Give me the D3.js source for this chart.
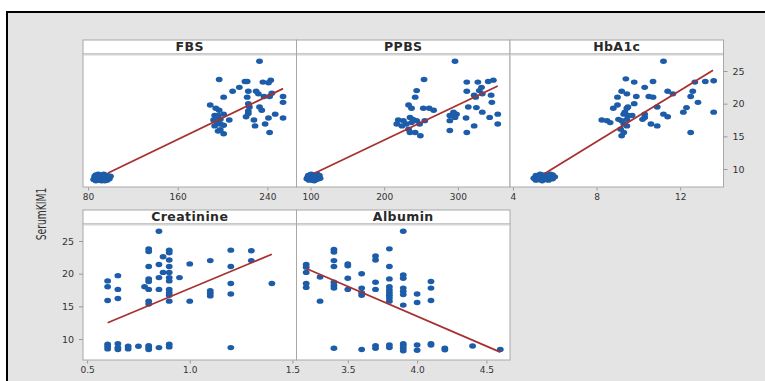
<!DOCTYPE html>
<html>
<head>
<meta charset="utf-8">
<script src="https://cdn.jsdelivr.net/npm/d3@7"></script>
<style>
  body { margin: 0; background: #fff; }
  svg { display: block; }
</style>
</head>
<body>
<script>
var w = 765;
var h = 381;

// panel names, x domains and ticks
var panelNames = ["FBS", "PPBS", "HbA1c", "Creatinine", "Albumin"];
var xDomains = [[75.5, 266], [81, 370.6], [3.86, 14.07], [0.48, 1.52], [3.13, 4.67]];
var xTicks = [[80, 160, 240], [100, 200, 300], [4, 8, 12], [0.5, 1.0, 1.5], [3.5, 4.0, 4.5]];
var yTicks = [10, 15, 20, 25];

// [x, SerumKIM1]
var fbsPts = [
  [85, 8.4], [86, 8.9], [87, 8.2], [87, 9.1], [88, 8.6], [89, 8.3], [89, 9.2], [90, 8.8], [91, 8.5],
  [92, 9.0], [92, 8.2], [93, 8.7], [94, 8.4], [94, 9.2], [95, 8.9], [96, 8.5], [97, 8.3], [97, 9.0],
  [98, 8.7], [99, 8.5], [100, 8.9], [86, 8.6], [90, 9.1], [95, 8.2], [88, 8.9],
  [233, 26.5], [197, 23.7], [220, 23.4], [222, 23.4], [236, 23.3], [243, 23.6], [241, 23.2],
  [215, 22.5], [209, 21.9], [230, 21.9], [232, 21.5], [223, 21.9], [244, 21.6], [242, 21.1],
  [237, 21.1], [201, 21.0], [222, 21.0], [254, 21.1], [254, 20.2], [189, 19.8], [194, 19.3],
  [197, 19.0], [223, 20.0], [224, 19.5], [233, 19.5], [193, 18.2], [196, 18.2], [201, 18.4],
  [206, 17.5], [221, 18.0], [223, 18.5], [223, 18.9], [247, 18.4], [241, 17.8], [254, 17.8],
  [195, 17.1], [198, 16.9], [193, 16.6], [201, 16.7], [228, 17.5], [229, 16.6], [238, 16.9],
  [196, 15.8], [201, 15.4], [198, 16.0], [242, 15.6], [235, 19.0], [195, 18.0], [198, 17.6], [192, 17.5]
];
var ppbsPts = [
  [95, 8.5], [97, 9.0], [98, 8.3], [100, 8.8], [101, 9.2], [102, 8.5], [104, 8.9], [105, 8.2],
  [106, 8.6], [107, 9.1], [108, 8.4], [110, 8.8], [111, 8.5], [112, 9.0], [96, 8.7], [103, 8.3],
  [109, 9.2], [113, 8.6], [99, 9.1], [105, 8.7],
  [296, 26.5], [254, 23.7], [312, 23.3], [327, 23.3], [341, 23.4], [348, 23.6], [332, 22.5],
  [244, 22.0], [312, 21.9], [329, 22.0], [242, 21.0], [322, 21.3], [324, 21.0], [333, 21.5],
  [345, 21.3], [233, 19.8], [237, 19.3], [253, 19.3], [261, 19.3], [267, 19.0], [346, 20.2],
  [314, 19.5], [325, 19.4], [333, 18.7], [294, 18.7], [298, 18.4], [296, 17.9], [289, 18.2],
  [343, 17.9], [354, 18.4], [311, 17.8], [219, 17.5], [226, 17.4], [235, 17.9], [239, 17.6],
  [230, 16.9], [237, 17.1], [244, 17.4], [217, 16.9], [224, 16.6], [233, 16.1], [235, 15.6],
  [242, 15.6], [249, 15.1], [255, 17.4], [248, 16.9], [289, 17.4], [289, 15.9], [322, 16.6],
  [312, 15.6], [354, 16.9]
];
var hba1cPts = [
  [5.0, 8.6], [5.1, 9.0], [5.1, 8.3], [5.2, 8.8], [5.3, 9.2], [5.3, 8.5], [5.4, 8.9], [5.4, 8.2],
  [5.5, 8.6], [5.5, 9.1], [5.6, 8.4], [5.6, 8.8], [5.7, 9.0], [5.7, 8.3], [5.8, 8.7], [5.9, 8.5],
  [5.9, 9.1], [6.0, 8.8], [5.2, 8.4], [5.8, 9.2],
  [11.2, 26.5], [9.4, 23.8], [9.8, 23.3], [10.7, 23.4], [10.3, 22.5], [12.7, 23.3], [13.2, 23.4],
  [13.6, 23.5], [9.2, 21.9], [9.45, 21.5], [11.4, 21.9], [11.65, 21.5], [12.6, 21.9], [9.9, 21.1],
  [10.5, 21.1], [10.7, 21.0], [9.0, 21.0], [12.5, 21.1], [9.8, 20.0], [10.9, 19.5], [12.85, 20.2],
  [9.0, 19.8], [8.8, 19.3], [9.45, 19.3], [9.35, 18.7], [9.5, 18.2], [9.7, 18.2], [10.3, 18.4],
  [10.3, 17.9], [10.2, 17.6], [11.2, 18.4], [11.4, 18.0], [12.3, 19.4], [12.15, 18.7], [13.6, 18.7],
  [8.25, 17.5], [8.5, 17.4], [8.65, 17.1], [9.05, 17.6], [9.2, 17.4], [9.3, 16.9], [9.45, 16.6],
  [9.15, 16.1], [9.3, 15.6], [9.2, 15.1], [10.6, 16.9], [10.9, 16.6], [12.5, 15.6], [9.45, 17.6],
  [9.5, 19.5], [9.3, 18.4]
];
var creatPts = [
  [0.6, 9.2], [0.6, 8.85], [0.6, 8.5], [0.65, 9.3], [0.65, 8.7], [0.65, 8.4], [0.7, 8.9], [0.7, 8.5],
  [0.75, 8.9], [0.8, 9.0], [0.8, 8.7], [0.8, 8.4], [0.85, 8.7], [0.9, 9.2], [0.9, 8.8], [1.2, 8.7],
  [0.6, 18.9], [0.6, 18.0], [0.6, 15.9], [0.65, 19.7], [0.65, 17.6], [0.65, 16.2],
  [0.8, 23.8], [0.8, 23.4], [0.8, 21.1], [0.8, 19.2], [0.8, 18.8], [0.8, 17.6], [0.8, 15.8], [0.8, 15.35],
  [0.78, 18.0], [0.85, 26.5], [0.85, 21.4], [0.85, 19.4], [0.85, 17.6], [0.87, 22.6], [0.87, 20.2],
  [0.9, 23.6], [0.9, 23.2], [0.9, 22.1], [0.9, 21.1], [0.9, 20.2], [0.9, 19.4], [0.9, 18.9],
  [0.9, 17.6], [0.9, 17.1], [0.9, 16.7], [0.9, 15.8], [0.95, 19.4], [1.0, 21.5], [1.0, 15.8],
  [1.1, 22.0], [1.1, 17.4], [1.1, 17.0], [1.1, 16.6], [1.2, 23.6], [1.2, 21.1], [1.2, 18.5],
  [1.2, 16.9], [1.3, 23.5], [1.3, 22.0], [1.4, 18.5]
];
var albPts = [
  [3.4, 8.6], [3.6, 8.4], [3.7, 9.0], [3.7, 8.6], [3.8, 9.1], [3.8, 8.7], [3.9, 9.3], [3.9, 9.0],
  [3.9, 8.6], [3.9, 8.2], [4.0, 9.1], [4.0, 8.3], [4.1, 9.3], [4.1, 9.1], [4.2, 8.6], [4.2, 8.35],
  [4.4, 8.95], [4.6, 8.4],
  [3.2, 21.4], [3.2, 21.0], [3.2, 20.2], [3.2, 18.5], [3.2, 17.9], [3.3, 19.5], [3.3, 15.8],
  [3.4, 23.7], [3.4, 23.3], [3.4, 22.0], [3.4, 21.1], [3.4, 18.7], [3.4, 18.2], [3.4, 17.8],
  [3.5, 21.5], [3.5, 21.2], [3.5, 19.3], [3.5, 17.6], [3.6, 20.0], [3.6, 17.8], [3.6, 17.1],
  [3.6, 16.7], [3.7, 22.7], [3.7, 22.1], [3.7, 18.7], [3.7, 17.6], [3.8, 23.8], [3.8, 21.1],
  [3.8, 19.2], [3.8, 18.0], [3.8, 17.5], [3.8, 17.1], [3.8, 16.7], [3.8, 16.3], [3.8, 15.8],
  [3.9, 26.5], [3.9, 19.8], [3.9, 19.3], [3.9, 17.8], [3.9, 17.3], [3.9, 16.8], [3.9, 15.2],
  [4.0, 16.9], [4.0, 15.6], [4.1, 18.8], [4.1, 17.8], [4.1, 15.9]
];
var panelPts = [fbsPts, ppbsPts, hba1cPts, creatPts, albPts];

// fitted line ends [x0, y0, x1, y1]
var fitLines = [
  [97.9, 9.4, 254, 22.3],
  [105.4, 9.35, 354, 22.7],
  [5.54, 9.35, 13.57, 25.1],
  [0.6, 12.5, 1.4, 22.97],
  [3.2, 20.8, 4.6, 8.0]
];

var svg = d3.select("body")
        .append("svg")
        .attr("width", w)
        .attr("height", h);

// frame
svg.append("rect").attr("x", 8).attr("y", 13).attr("width", w - 8).attr("height", h - 13)
        .style("fill", "#e4e4e4");
svg.append("line").attr("x1", 7).attr("x2", w).attr("y1", 12).attr("y2", 12)
        .style("stroke", "#000").style("stroke-width", 2);
svg.append("line").attr("x1", 7).attr("x2", 7).attr("y1", 11).attr("y2", h)
        .style("stroke", "#000").style("stroke-width", 2);

var panelW = 213.5;
var rowTop = [40, 210];
var headH = 14;
var rowBottom = [187, 360];
var yMin = [7.25, 6.8];
var yMax = 27.6;

panelNames.forEach(function (name, i) {
    var col = i % 3, row = Math.floor(i / 3);
    var x0 = 83 + col * panelW;
    var top = rowTop[row] + headH;
    var bottom = rowBottom[row];

    var x = d3.scaleLinear().domain(xDomains[i]).range([x0, x0 + panelW]);
    var y = d3.scaleLinear().domain([yMin[row], yMax]).range([bottom, top]);

    var g = svg.append("g");

    // strip header
    g.append("rect").attr("x", x0).attr("y", rowTop[row]).attr("width", panelW).attr("height", headH)
            .style("fill", "#fff").style("stroke", "#a8a8a8");
    g.append("text").attr("x", x0 + panelW / 2).attr("y", rowTop[row] + 11)
            .attr("text-anchor", "middle")
            .style("font-family", "DejaVu Sans, sans-serif").style("font-weight", "bold")
            .style("font-size", "12.5px").style("fill", "#2a2a2a").style("letter-spacing", "0.4px")
            .text(name);

    // plot area
    g.append("rect").attr("x", x0).attr("y", top).attr("width", panelW).attr("height", bottom - top)
            .style("fill", "#fff").style("stroke", "#a8a8a8");
    g.append("line").attr("x1", x0 + 0.5).attr("x2", x0 + panelW - 0.5).attr("y1", top + 0.5).attr("y2", top + 0.5)
            .style("stroke", "#d4d4d4").style("stroke-width", 2);

    // x axis
    var xAxis = d3.axisBottom(x).tickValues(xTicks[i]).tickSize(3).tickPadding(3)
            .tickFormat(i >= 3 ? d3.format(".1f") : d3.format("d"));
    var ax = g.append("g").attr("transform", "translate(0," + (bottom + 0.5) + ")").call(xAxis);
    ax.select(".domain").remove();
    ax.selectAll("line").style("stroke", "#999");
    ax.selectAll("text").style("font-family", "DejaVu Sans, sans-serif").style("font-size", "9px").style("fill", "#333");

    // y axis: right side of HbA1c, left side of Creatinine
    if (i === 2 || i === 3) {
        var yAxis = (i === 2 ? d3.axisRight(y) : d3.axisLeft(y)).tickValues(yTicks).tickSize(4).tickPadding(5);
        var ay = g.append("g")
                .attr("transform", "translate(" + (i === 2 ? x0 + panelW : x0) + ",0)")
                .call(yAxis);
        ay.select(".domain").remove();
        ay.selectAll("line").style("stroke", "#999");
        ay.selectAll("text").style("font-family", "DejaVu Sans, sans-serif").style("font-size", "9.5px").style("fill", "#333");
    }

    // points
    g.selectAll("ellipse")
            .data(panelPts[i])
            .enter()
            .append("ellipse")
            .attr("cx", function (d) { return x(d[0]); })
            .attr("cy", function (d) { return y(d[1]); })
            .attr("rx", 3.4)
            .attr("ry", 2.7)
            .style("fill", "#1d5ca8");

    // fit line
    var f = fitLines[i];
    g.append("line")
            .attr("x1", x(f[0])).attr("y1", y(f[1]))
            .attr("x2", x(f[2])).attr("y2", y(f[3]))
            .style("stroke", "#a83030").style("stroke-width", 1.8);
});

// y title (narrow, tall lettering)
svg.append("text")
        .attr("transform", "translate(46,214) rotate(-90) scale(0.82,1.15)")
        .attr("text-anchor", "middle")
        .style("font-family", "DejaVu Sans Condensed, Liberation Sans Narrow, sans-serif")
        .style("font-size", "12.5px").style("fill", "#333")
        .text("SerumKIM1");
</script>
</body>
</html>
